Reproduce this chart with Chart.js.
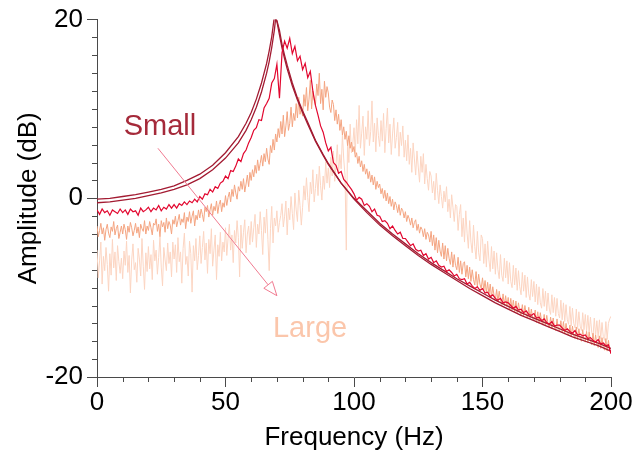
<!DOCTYPE html>
<html>
<head>
<meta charset="utf-8">
<script src="https://cdn.jsdelivr.net/npm/chart.js@4.4.1/dist/chart.umd.min.js"></script>
<style>
html,body{margin:0;padding:0;background:#fff;}
#wrap{width:639px;height:461px;position:relative;}
</style>
</head>
<body>
<div id="wrap"><canvas id="c" width="639" height="461"></canvas></div>
<script>
// ---- data (frequency in Hz, amplitude in dB) ----
const xTicks = [0, 50, 100, 150, 200];
const yTicks = [-20, 0, 20];
const seriesNames = ["Small (model A)", "Small (model B)", "Small measured", "Medium measured", "Large measured"];

// smooth curves (x, y) pairs
const modelA = [[0,-0.1],[5,0.0],[10,0.2],[15,0.4],[20,0.7],[25,1.0],[30,1.4],[35,2.0],[40,2.7],[45,3.7],[50,5.1],[55,6.9],[58,8.4],[60,9.6],[62,11.1],[64,12.9],[66,15.1],[67,16.5],[68,18.1],[69,20.3],[70,19.8],[71,18.3],[72,16.8],[73,15.6],[74,14.5],[76,12.6],[78,11.0],[80,9.6],[82,8.3],[85,6.4],[88,4.8],[90,3.8],[95,1.7],[100,0.0],[105,-1.4],[110,-2.8],[115,-4.0],[120,-5.1],[125,-6.2],[130,-7.2],[135,-8.1],[140,-9.0],[145,-9.8],[150,-10.6],[155,-11.4],[160,-12.1],[165,-12.8],[170,-13.4],[175,-14.0],[180,-14.6],[185,-15.2],[190,-15.7],[195,-16.2],[200,-16.8]];
const modelB = [[0,-0.5],[5,-0.4],[10,-0.2],[15,0.0],[20,0.3],[25,0.6],[30,1.0],[35,1.5],[40,2.2],[45,3.2],[50,4.5],[55,6.2],[58,7.6],[60,8.8],[62,10.2],[64,11.9],[66,14.0],[67,15.3],[68,16.9],[69,18.8],[69.5,20.1],[70,19.9],[71,18.8],[72,17.2],[73,16.0],[74,14.9],[76,12.9],[78,11.2],[80,9.8],[82,8.5],[85,6.5],[88,4.9],[90,3.9],[95,1.7],[100,-0.1],[105,-1.6],[110,-3.0],[115,-4.2],[120,-5.3],[125,-6.4],[130,-7.4],[135,-8.3],[140,-9.2],[145,-10.1],[150,-10.9],[155,-11.7],[160,-12.4],[165,-13.1],[170,-13.7],[175,-14.3],[180,-14.9],[185,-15.5],[190,-16.0],[195,-16.5],[200,-17.1]];

// measured "small": one value per 1 Hz from 0 to 200 Hz
const smallStep = 1;
const smallMeasured = [
-1.3,-1.8,-1.2,-1.6,-1.4,-1.9,-1.3,-1.5,-1.7,-1.2,
-1.6,-1.3,-1.8,-1.2,-1.5,-1.4,-1.9,-1.1,-1.5,-1.3,
-1.0,-1.5,-1.1,-1.3,-0.8,-1.4,-1.0,-1.2,-0.7,-1.1,
-0.7,-1.1,-0.6,-0.8,-0.4,-0.7,-0.3,-0.5,-0.1,-0.4,
0.2,-0.1,0.5,0.4,1.0,0.7,1.3,1.1,1.7,1.9,
2.5,2.2,3.1,3.0,3.6,4.4,4.1,5.0,5.4,6.2,
6.8,7.6,7.9,8.8,8.7,10.1,10.6,11.2,12.9,13.4,
15.0,11.2,16.3,17.6,16.8,17.9,16.2,17.0,15.4,15.9,
14.4,15.1,13.5,14.2,12.0,10.4,9.3,8.1,7.4,6.2,
5.3,5.7,4.0,3.7,2.8,3.0,2.1,1.8,1.4,1.0,
0.5,-0.2,0.1,-0.1,-0.8,-0.6,-0.9,-1.5,-1.2,-1.9,
-2.0,-2.6,-2.5,-2.8,-3.4,-3.1,-3.6,-4.0,-3.8,-4.5,
-4.5,-4.9,-5.3,-5.1,-5.7,-5.9,-5.8,-6.4,-6.2,-6.8,
-6.6,-7.2,-7.0,-7.5,-7.7,-7.6,-8.2,-8.0,-8.3,-8.7,
-8.5,-9.0,-9.1,-9.0,-9.6,-9.4,-9.8,-10.1,-9.9,-10.3,
-10.1,-10.6,-10.5,-11.0,-10.8,-11.2,-11.4,-11.2,-11.7,-11.6,
-11.7,-12.0,-12.3,-12.1,-12.5,-12.4,-12.8,-12.6,-13.0,-13.1,
-12.9,-13.4,-13.3,-13.7,-13.5,-13.9,-14.1,-13.8,-14.3,-14.2,
-14.2,-14.5,-14.8,-14.6,-14.9,-15.1,-14.8,-15.3,-15.2,-15.4,
-15.3,-15.7,-15.6,-15.9,-16.1,-15.8,-16.3,-16.2,-16.5,-16.4,-17.4];

// measured "medium" and "large": one value per 0.5 Hz from 0 to 200 Hz
const fineStep = 0.5;
const mediumMeasured = [
-3.1,-4.3,-3.6,-2.8,-4.0,-3.3,-4.7,-3.5,-2.9,-3.9,-4.4,-3.2,-3.7,-2.6,-4.1,-3.4,-3.0,-4.5,-3.8,-3.1,
-4.0,-2.9,-3.5,-4.6,-3.1,-3.8,-2.7,-3.3,-4.2,-3.6,-2.8,-3.9,-3.2,-4.4,-2.9,-3.4,-3.7,-2.5,-4.0,-3.1,
-3.6,-2.6,-3.3,-4.1,-2.8,-3.0,-2.3,-3.7,-2.9,-4.3,-2.5,-3.2,-2.7,-3.8,-2.2,-3.4,-2.6,-3.0,-4.0,-2.4,
-2.9,-2.0,-3.2,-2.5,-1.8,-3.0,-2.3,-2.7,-1.6,-3.4,-2.1,-2.6,-1.5,-2.8,-2.0,-1.4,-3.1,-1.9,-2.4,-1.3,
-2.2,-1.2,-1.8,-2.6,-1.0,-1.5,-0.8,-2.1,-1.3,-0.6,-1.9,-0.9,-1.4,-0.3,-1.7,-0.7,-0.2,-1.5,-0.5,-1.0,
0.3,-0.8,0.1,0.7,-0.4,1.0,0.2,1.5,0.6,-0.1,1.3,0.8,1.9,1.0,2.2,0.7,1.6,2.6,1.3,2.9,
2.0,3.2,2.4,3.7,2.8,4.3,3.1,3.9,4.8,3.6,5.0,4.1,5.6,4.4,3.8,5.9,5.1,6.6,5.4,7.2,
6.3,7.8,6.8,8.6,7.2,9.3,6.9,8.1,9.7,7.6,8.4,10.2,8.0,9.5,8.7,10.6,9.0,11.3,9.4,10.1,
9.2,11.6,10.3,12.4,9.8,11.1,13.2,10.0,12.0,11.0,10.4,12.8,11.5,14.0,10.6,12.2,9.9,13.1,11.3,12.5,
11.8,10.2,9.6,11.0,10.5,8.7,9.9,8.3,9.4,7.6,8.8,7.1,8.0,6.6,7.5,5.9,7.0,5.6,6.3,5.2,
5.8,4.6,5.1,3.9,4.7,3.5,4.2,3.0,3.8,2.7,3.3,2.2,3.0,1.8,2.6,1.5,2.4,1.0,1.9,1.2,
1.6,0.5,1.1,0.0,0.9,-0.3,0.6,-0.6,0.2,-0.9,-0.1,-1.3,-0.4,-0.8,-1.6,-0.7,-1.9,-1.1,-1.4,-2.2,
-1.5,-2.6,-1.9,-2.3,-3.0,-2.2,-3.3,-2.7,-2.4,-3.6,-2.9,-3.9,-3.2,-3.5,-4.3,-3.4,-4.6,-3.8,-4.1,-4.9,
-3.7,-5.3,-4.1,-5.8,-4.4,-6.1,-4.7,-5.9,-6.5,-5.0,-6.8,-5.3,-7.0,-5.6,-6.7,-7.4,-6.0,-7.7,-6.3,-7.5,
-8.0,-6.6,-8.3,-7.0,-8.5,-7.3,-7.1,-8.8,-7.5,-9.0,-7.7,-9.3,-8.0,-9.1,-9.7,-8.2,-9.9,-8.5,-9.6,-10.1,
-8.9,-10.3,-9.2,-10.6,-9.4,-10.8,-9.6,-11.1,-9.9,-10.9,-11.4,-10.2,-11.6,-10.4,-11.4,-11.9,-10.7,-12.0,-10.9,-12.1,
-11.1,-12.4,-11.2,-12.5,-11.4,-12.7,-11.5,-12.8,-11.7,-12.6,-13.1,-11.9,-13.2,-12.0,-13.0,-13.4,-12.2,-13.5,-12.4,-13.4,
-13.7,-12.5,-13.9,-12.7,-14.0,-12.8,-13.8,-14.2,-13.0,-14.3,-13.1,-14.1,-14.5,-13.3,-14.6,-13.4,-14.4,-14.8,-13.5,-14.7,
-14.9,-13.7,-15.0,-13.8,-15.2,-14.0,-15.0,-15.4,-14.2,-15.5,-14.3,-15.3,-15.7,-14.4,-15.8,-14.6,-15.6,-16.0,-14.7,-15.9,
-16.1,-14.9,-16.2,-15.0,-16.0,-16.4,-15.1,-16.5,-15.3,-16.3,-16.7,-15.4,-16.8,-15.6,-16.6,-17.0,-15.7,-17.1,-15.9,-16.9,-17.3];
const largeMeasured = [
-5.8,-8.9,-7.0,-4.9,-9.6,-6.5,-8.1,-5.5,-7.4,-10.4,-6.2,-8.6,-4.6,-7.8,-6.0,-9.2,-5.3,-7.1,-8.4,-6.7,
-9.0,-5.9,-7.5,-4.8,-8.3,-6.4,-10.6,-6.9,-5.1,-8.0,-7.2,-9.4,-5.6,-6.8,-8.7,-4.5,-7.6,-10.2,-6.1,-8.2,
-5.4,-7.9,-6.3,-9.1,-4.7,-7.0,-5.8,-8.5,-6.6,-4.3,-7.7,-9.8,-5.5,-6.9,-8.1,-5.0,-7.3,-6.0,-8.8,-4.9,
-6.8,-5.2,-8.3,-4.4,-7.1,-6.0,-9.5,-5.6,-3.9,-7.4,-6.5,-8.7,-4.8,-6.2,-10.5,-5.3,-7.0,-4.5,-8.0,-6.4,
-4.2,-7.3,-5.5,-3.7,-6.9,-5.0,-8.4,-4.6,-6.2,-3.4,-7.6,-5.8,-4.1,-9.1,-5.2,-6.5,-3.8,-7.0,-4.9,-6.0,
-3.3,-6.4,-4.5,-2.9,-5.8,-4.1,-7.2,-3.6,-5.0,-2.5,-4.4,-8.8,-3.0,-5.6,-3.8,-2.4,-6.1,-4.0,-3.1,-5.2,
-2.6,-4.9,-3.3,-1.8,-5.5,-2.9,-4.0,-1.5,-3.6,-6.3,-2.1,-3.9,-1.2,-4.6,-8.1,-3.4,-0.9,-5.0,-2.2,-3.1,
-1.4,-3.8,-2.7,-1.9,-0.6,-3.2,-2.0,-0.3,-4.1,-1.1,-2.4,0.2,-1.7,-3.5,0.6,-1.3,-2.6,0.9,-0.8,-3.0,
-1.0,1.4,-0.2,2.3,0.1,-1.5,1.8,0.5,3.2,-0.4,1.1,2.7,0.3,3.6,1.4,-0.2,2.5,1.0,4.1,1.7,
3.4,1.2,4.6,2.5,5.3,1.9,3.8,6.0,2.8,4.9,3.3,7.2,4.4,2.6,-5.8,6.5,4.0,8.3,5.1,6.0,
7.9,5.0,8.8,6.1,10.4,5.6,7.3,9.2,4.8,8.0,6.6,9.8,5.9,7.5,10.9,6.3,8.4,5.2,9.0,7.0,
5.8,8.7,6.4,9.5,5.1,7.8,10.1,6.2,8.3,4.9,7.2,9.0,5.6,6.8,8.5,4.7,7.4,5.9,8.1,4.6,
6.5,4.2,7.1,3.8,5.6,2.9,6.2,4.4,2.6,5.3,3.5,1.8,4.7,2.9,5.0,1.6,3.8,2.2,0.9,3.0,
2.5,0.6,1.9,-0.2,2.8,0.9,-0.6,1.5,0.2,-1.1,0.8,-0.4,1.3,-1.5,-0.1,-2.2,0.4,-1.0,-2.6,-0.7,
-0.9,-3.6,-1.8,-0.7,-4.3,-2.2,-4.9,-1.4,-3.9,-5.6,-2.5,-4.9,-6.1,-3.0,-5.4,-6.8,-3.7,-6.1,-7.0,-4.1,
-4.5,-7.3,-5.1,-7.7,-4.8,-6.9,-8.2,-5.4,-7.9,-5.9,-8.5,-6.1,-8.0,-9.0,-6.3,-8.6,-9.3,-6.7,-8.9,-7.0,
-9.6,-7.2,-9.3,-10.0,-7.5,-9.7,-7.8,-10.3,-8.1,-9.9,-10.8,-8.3,-10.4,-8.6,-11.1,-8.8,-10.7,-11.4,-9.1,-11.0,
-9.3,-11.6,-9.6,-11.9,-9.9,-11.7,-12.3,-10.1,-12.1,-10.4,-12.6,-10.6,-12.4,-13.0,-10.8,-12.8,-11.1,-13.2,-11.2,-12.9,
-13.4,-11.4,-13.6,-11.7,-13.8,-11.9,-13.6,-14.1,-12.1,-14.3,-12.3,-14.0,-14.5,-12.4,-14.6,-12.7,-14.3,-14.8,-12.8,-14.7,
-13.0,-14.9,-13.1,-15.1,-13.3,-15.0,-15.5,-13.4,-15.4,-13.7,-15.6,-13.6,-15.7,-13.9,-15.5,-15.9,-13.8,-15.8,-14.0,-13.5,-13.2];

// annotation texts
const labelSmall = "Small";
const labelLarge = "Large";

// ---- build chart ----
const toXY = (arr, step) => arr.map((v, i) => ({x: i * step, y: v}));
const pairs = arr => arr.map(p => ({x: p[0], y: p[1]}));

const FONT = "'Liberation Sans', Arial, sans-serif";
const AXIS = '#4a4a4a';

const minorTicks = {
  id: 'minorTicks',
  afterDraw(chart) {
    const {ctx, scales: {x, y}, chartArea: ca} = chart;
    ctx.save();
    ctx.strokeStyle = AXIS;
    ctx.lineWidth = 1;
    ctx.beginPath();
    for (let v = 10; v < 200; v += 10) {
      if (v % 50 === 0) continue;
      const px = Math.round(x.getPixelForValue(v)) + 0.5;
      ctx.moveTo(px, ca.bottom); ctx.lineTo(px, ca.bottom + 5);
    }
    for (let v = -18; v < 20; v += 2) {
      if (v % 20 === 0) continue;
      const py = Math.round(y.getPixelForValue(v)) + 0.5;
      ctx.moveTo(ca.left, py); ctx.lineTo(ca.left - 5, py);
    }
    ctx.stroke();
    ctx.restore();
  }
};

const annotations = {
  id: 'annotations',
  afterDatasetsDraw(chart) {
    const {ctx, scales: {x, y}} = chart;
    ctx.save();
    ctx.font = "29px " + FONT;
    ctx.textAlign = 'center';
    ctx.textBaseline = 'middle';
    ctx.fillStyle = '#a52a3a';
    ctx.fillText(labelSmall, x.getPixelForValue(24.5), y.getPixelForValue(8.0));
    ctx.fillStyle = '#fbc6ab';
    ctx.fillText(labelLarge, x.getPixelForValue(82.9), y.getPixelForValue(-14.6));
    // arrow
    const x1 = x.getPixelForValue(23.7), y1 = y.getPixelForValue(5.6);
    const x2 = x.getPixelForValue(70.0), y2 = y.getPixelForValue(-10.9);
    const ang = Math.atan2(y2 - y1, x2 - x1);
    const L = 14, W = 5.5;
    const bx = x2 - L * Math.cos(ang), by = y2 - L * Math.sin(ang);
    ctx.strokeStyle = '#f07a90';
    ctx.lineWidth = 1;
    ctx.beginPath();
    ctx.moveTo(x1, y1); ctx.lineTo(bx, by);
    ctx.stroke();
    ctx.beginPath();
    ctx.moveTo(x2, y2);
    ctx.lineTo(bx + W * Math.sin(ang), by - W * Math.cos(ang));
    ctx.lineTo(bx - W * Math.sin(ang), by + W * Math.cos(ang));
    ctx.closePath();
    ctx.fillStyle = '#fff';
    ctx.fill();
    ctx.stroke();
    ctx.restore();
  }
};

const ds = (label, data, color, width) => ({
  label, data, borderColor: color, backgroundColor: color,
  borderWidth: width, pointRadius: 0, tension: 0, fill: false
});

new Chart(document.getElementById('c'), {
  type: 'line',
  data: {
    datasets: [
      ds(seriesNames[2], toXY(smallMeasured, smallStep), '#e2072f', 1.2),
      ds(seriesNames[0], pairs(modelA), '#a31b32', 1.3),
      ds(seriesNames[1], pairs(modelB), '#a31b32', 1.3),
      ds(seriesNames[3], toXY(mediumMeasured, fineStep), '#f4a582', 1),
      ds(seriesNames[4], toXY(largeMeasured, fineStep), '#fcd5c2', 1)
    ]
  },
  options: {
    responsive: false,
    animation: false,
    events: [],
    layout: {padding: {top: 18, right: 28, left: 0, bottom: 0}},
    plugins: {legend: {display: false}, tooltip: {enabled: false}},
    scales: {
      x: {
        type: 'linear', min: 0, max: 200,
        afterBuildTicks: s => { s.ticks = xTicks.map(v => ({value: v})); },
        afterFit: s => { s.height = 84; },
        border: {display: true, color: AXIS, width: 1},
        grid: {display: true, drawOnChartArea: false, drawTicks: true, tickLength: 10, color: AXIS},
        ticks: {color: '#000', font: {family: FONT, size: 26}, padding: 0, maxRotation: 0},
        title: {display: true, text: 'Frequency (Hz)', color: '#000', font: {family: FONT, size: 26}, padding: {top: 0, bottom: 8}}
      },
      y: {
        type: 'linear', min: -20, max: 20,
        afterBuildTicks: s => { s.ticks = yTicks.map(v => ({value: v})); },
        afterFit: s => { s.width = 97; },
        border: {display: true, color: AXIS, width: 1},
        grid: {display: true, drawOnChartArea: false, drawTicks: true, tickLength: 10, color: AXIS},
        ticks: {color: '#000', font: {family: FONT, size: 26}, padding: 4},
        title: {display: true, text: 'Amplitude (dB)', color: '#000', font: {family: FONT, size: 26}, padding: {top: 13, bottom: 0}}
      }
    }
  },
  plugins: [minorTicks, annotations]
});
</script>
</body>
</html>
